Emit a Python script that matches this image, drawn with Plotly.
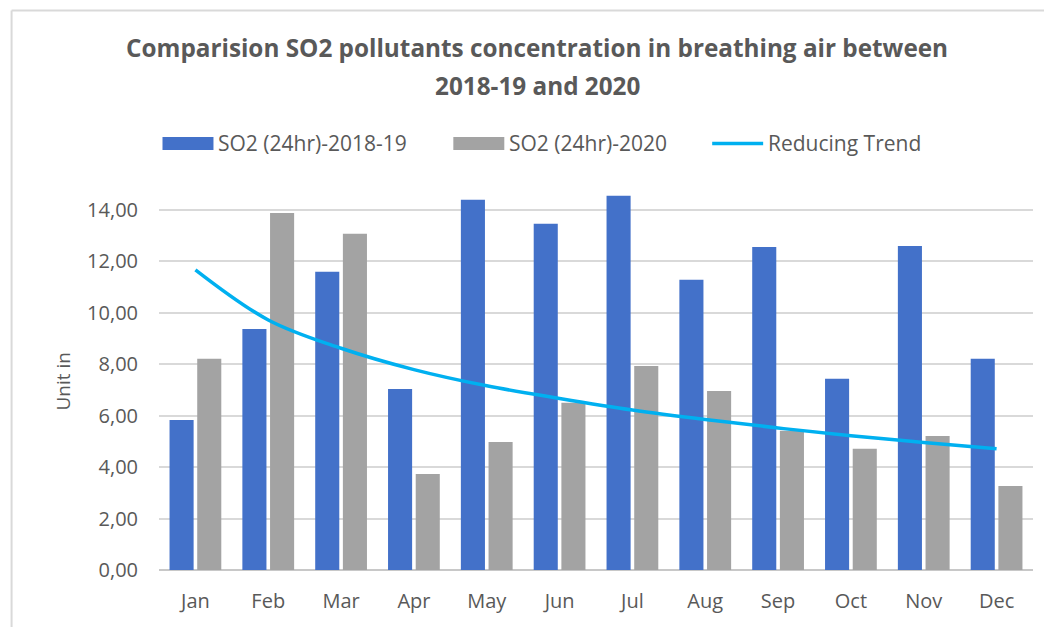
import plotly.graph_objects as go

months = ["Jan", "Feb", "Mar", "Apr", "May", "Jun", "Jul", "Aug", "Sep", "Oct", "Nov", "Dec"]
so2_2018_19 = [5.83, 9.37, 11.59, 7.04, 14.39, 13.46, 14.55, 11.28, 12.56, 7.43, 12.60, 8.21]
so2_2020 = [8.21, 13.88, 13.07, 3.73, 4.98, 6.50, 7.93, 6.96, 5.41, 4.71, 5.21, 3.27]
trend = [11.67, 9.72, 8.62, 7.79, 7.16, 6.67, 6.22, 5.85, 5.52, 5.22, 4.96, 4.71]
y_ticks = [0, 2, 4, 6, 8, 10, 12, 14]

BLUE = "#4371c9"
GRAY = "#a3a3a3"
TREND = "#00b0f0"
INK = "#595959"
GRID = "#d9d9d9"
FONT = "'Open Sans', Lato, sans-serif"

# the page puts the figure 8px in from the top-left corner of the window
OFF = 8
W, H = 1052, 627
# plot area in window pixels: x 158.5..1033, y 188..570
L, T = 158.5 - OFF, 188 - OFF
R, B = W - (1033 - OFF), H - (570 - OFF)
PW, PH = W - L - R, H - T - B


def px(x):
    return (x - OFF - L) / PW


def py(y):
    return (H - B - (y - OFF)) / PH


fig = go.Figure()
fig.add_trace(go.Bar(x=months, y=so2_2018_19, name="SO2 (24hr)-2018-19",
                     marker=dict(color=BLUE, line=dict(width=0))))
fig.add_trace(go.Bar(x=months, y=so2_2020, name="SO2 (24hr)-2020",
                     marker=dict(color=GRAY, line=dict(width=0))))
fig.add_trace(go.Scatter(x=months, y=trend, name="Reducing Trend", mode="lines",
                         line=dict(color=TREND, width=3.5, shape="spline")))

# legend drawn by hand so the swatches match the wide Excel ones
legend_items = [
    (162, 213, BLUE, "rect", "SO2 (24hr)-2018-19"),
    (453, 504, GRAY, "rect", "SO2 (24hr)-2020"),
    (712, 763, TREND, "line", "Reducing Trend"),
]
shapes = []
annotations = []
for x0, x1, col, kind, label in legend_items:
    if kind == "rect":
        shapes.append(dict(type="rect", xref="paper", yref="paper",
                           x0=px(x0), x1=px(x1), y0=py(150), y1=py(137),
                           fillcolor=col, line=dict(width=0)))
    else:
        shapes.append(dict(type="line", xref="paper", yref="paper",
                           x0=px(x0), x1=px(x1), y0=py(143.5), y1=py(143.5),
                           line=dict(color=col, width=3.5)))
    annotations.append(dict(text=label, xref="paper", yref="paper",
                            x=px(x1 + 3), y=py(143), xanchor="left", yanchor="middle",
                            showarrow=False, font=dict(size=21, color=INK, family=FONT)))

# title, two lines with Excel's looser line spacing
for text, yc in [("Comparision SO2 pollutants concentration in breathing air between", 48),
                 ("2018-19 and 2020", 85)]:
    annotations.append(dict(text="<b>" + text + "</b>", xref="paper", yref="paper",
                            x=px(537), y=py(yc), xanchor="center", yanchor="middle",
                            showarrow=False, font=dict(size=24.3, color=INK, family=FONT)))

# y axis title placed by hand
annotations.append(dict(text="Unit in", xref="paper", yref="paper", x=px(62), y=py(382),
                        xanchor="center", yanchor="middle", textangle=-90, showarrow=False,
                        font=dict(size=19, color=INK, family=FONT)))

# outer chart frame
shapes.append(dict(type="line", xref="paper", yref="paper", x0=px(11), x1=px(1070),
                   y0=py(10.5), y1=py(10.5), line=dict(color="#d9d9d9", width=2)))
shapes.append(dict(type="line", xref="paper", yref="paper", x0=px(11), x1=px(11),
                   y0=py(10.5), y1=py(650), line=dict(color="#d9d9d9", width=2)))

fig.update_layout(
    width=W, height=H,
    margin=dict(l=L, r=R, t=T, b=B),
    paper_bgcolor="white", plot_bgcolor="white",
    separators=",.",
    showlegend=False,
    barmode="group", bargap=0.24, bargroupgap=0.13,
    font=dict(family=FONT, color=INK),
    shapes=shapes,
    annotations=annotations,
)
fig.update_xaxes(showgrid=False, showline=False, ticks="",
                 tickfont=dict(size=20, color=INK), ticklabelstandoff=17)
fig.update_yaxes(range=[0, 14.85], tickvals=y_ticks, tickformat=".2f",
                 gridcolor=GRID, gridwidth=2, zeroline=True, zerolinecolor="#c8c8c8",
                 zerolinewidth=2, showline=False, ticks="",
                 tickfont=dict(size=20, color=INK), ticklabelstandoff=20)

fig.write_html("out.html")
